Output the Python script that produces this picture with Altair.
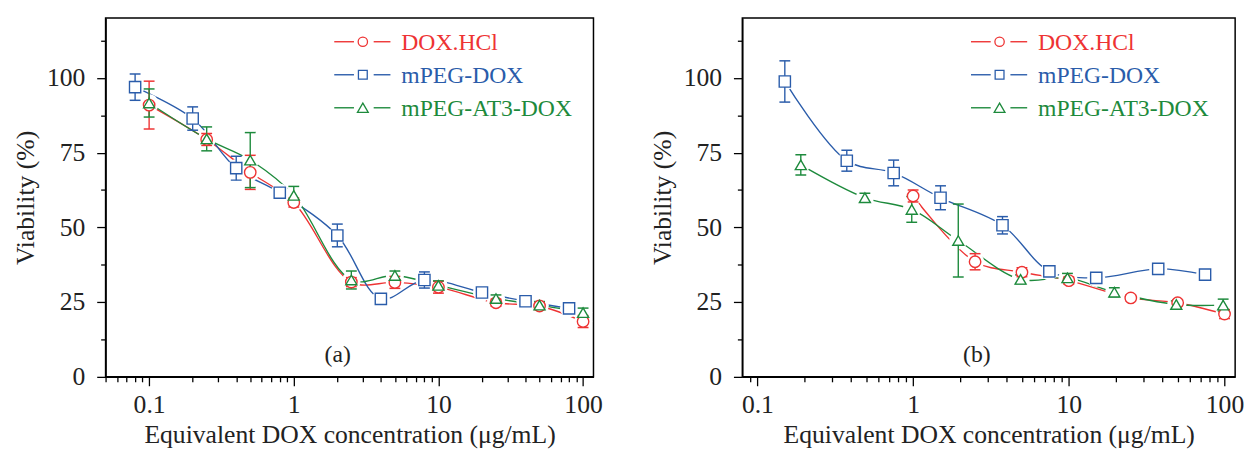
import altair as alt
import pandas as pd

SERIES = ["DOX.HCl", "mPEG-DOX", "mPEG-AT3-DOX"]
COLORS = ["#EE3333", "#2A5CAA", "#1D8A3C"]
SHAPES = ["circle", "square", "triangle-up"]
SIZES = [135, 125, 175]
LEG_SIZES = [90, 80, 120]

# Panel (a)
A_HCL_X = [0.1, 0.25, 0.5, 1, 2.5, 5, 10, 25, 50, 100]
A_HCL_Y = [90.9, 79.4, 68.4, 58.3, 31.7, 31.6, 30.0, 24.8, 23.7, 18.5]
A_HCL_E = [8.0, 2.0, 5.7, 1.5, 1.5, 2.0, 2.0, 1.2, 1.2, 2.0]
A_PEG_X = [0.08, 0.2, 0.4, 0.8, 2, 4, 8, 20, 40, 80]
A_PEG_Y = [96.9, 86.4, 69.8, 61.6, 47.3, 26.1, 32.4, 28.2, 25.3, 22.9]
A_PEG_E = [4.4, 3.9, 4.0, 1.5, 3.8, 1.5, 2.7, 1.5, 1.0, 1.0]
A_AT3_X = [0.1, 0.25, 0.5, 1, 2.5, 5, 10, 25, 50, 100]
A_AT3_Y = [91.6, 79.6, 72.5, 60.7, 32.4, 33.9, 30.6, 26.2, 24.0, 21.5]
A_AT3_E = [4.7, 4.0, 9.2, 3.0, 3.0, 1.5, 1.5, 1.2, 1.2, 1.5]

# Panel (b)
B_HCL_X = [1, 2.5, 5, 10, 25, 50, 100]
B_HCL_Y = [60.5, 38.5, 35.0, 32.2, 26.4, 24.8, 21.0]
B_HCL_E = [2.0, 2.7, 1.5, 1.2, 1.0, 1.0, 1.5]
B_PEG_X = [0.15, 0.375, 0.75, 1.5, 3.75, 7.5, 15, 37.5, 75]
B_PEG_Y = [98.8, 72.3, 68.2, 59.9, 50.7, 35.3, 33.1, 36.1, 34.2]
B_PEG_E = [6.9, 3.5, 4.3, 4.0, 2.9, 1.5, 1.2, 1.0, 1.0]
B_AT3_X = [0.19, 0.49, 0.98, 1.95, 4.9, 9.8, 19.6, 49, 98]
B_AT3_Y = [70.9, 59.9, 56.0, 45.6, 32.6, 33.1, 28.3, 24.2, 24.0]
B_AT3_E = [3.4, 1.5, 4.3, 12.2, 1.5, 1.5, 1.5, 1.2, 2.0]

A_XTICKS = [0.05, 0.06, 0.07, 0.08, 0.09, 0.1, 0.2, 0.3, 0.4, 0.5, 0.6, 0.7, 0.8, 0.9,
            1, 2, 3, 4, 5, 6, 7, 8, 9, 10, 20, 30, 40, 50, 60, 70, 80, 90, 100]
B_XTICKS = [0.09, 0.1, 0.2, 0.3, 0.4, 0.5, 0.6, 0.7, 0.8, 0.9,
            1, 2, 3, 4, 5, 6, 7, 8, 9, 10, 20, 30, 40, 50, 60, 70, 80, 90, 100]
X_MAJOR = [0.1, 1, 10, 100]
Y_TICKS = [0, 12.5, 25, 37.5, 50, 62.5, 75, 87.5, 100, 112.5]

FONT = "Liberation Serif"


def frame(series_data):
    rows = []
    for name, (xs, ys, es) in zip(SERIES, series_data):
        for x, y, e in zip(xs, ys, es):
            rows.append({"series": name, "x": x, "y": y, "lo": y - e, "hi": y + e})
    return pd.DataFrame(rows)


def panel(df, xdomain, xticks, width, label):
    major_test = "indexof([0.1, 1, 10, 100], datum.value) >= 0"
    xenc = alt.X(
        "x:Q",
        scale=alt.Scale(type="log", domain=xdomain, nice=False),
        axis=alt.Axis(
            values=xticks,
            labelExpr="indexof([0.1, 1, 10, 100], datum.value) >= 0 ? format(datum.value, '~g') : ''",
            tickSize={"condition": {"test": major_test, "value": 9}, "value": 5},
            labelOverlap=False,
            labelPadding=6,
            titlePadding=5,
            title="Equivalent DOX concentration (\u03bcg/mL)",
        ),
    )
    yenc = alt.Y(
        "y:Q",
        scale=alt.Scale(domain=[0, 120], nice=False),
        axis=alt.Axis(
            values=Y_TICKS,
            labelExpr="datum.value % 25 == 0 ? format(datum.value, 'd') : ''",
            tickSize={"condition": {"test": "datum.value % 25 == 0", "value": 9}, "value": 5},
            labelOverlap=False,
            labelPadding=12,
            titlePadding=8,
            title="Viability (%)",
        ),
    )
    color = alt.Color("series:N", scale=alt.Scale(domain=SERIES, range=COLORS), legend=None)
    stroke = alt.Stroke("series:N", scale=alt.Scale(domain=SERIES, range=COLORS), legend=None)
    shape = alt.Shape("series:N", scale=alt.Scale(domain=SERIES, range=SHAPES), legend=None)
    size = alt.Size("series:N", scale=alt.Scale(domain=SERIES, range=SIZES), legend=None)

    base = alt.Chart(df)
    line = base.mark_line(interpolate="catmull-rom", strokeWidth=1.4).encode(x=xenc, y=yenc, color=color)
    halo = base.mark_circle(color="white", size=340, opacity=1).encode(x="x:Q", y="y:Q")
    rule = base.mark_rule(strokeWidth=1.4).encode(x="x:Q", y="lo:Q", y2="hi:Q", color=color)
    cap_lo = base.mark_tick(orient="horizontal", size=11, thickness=1.5, opacity=1).encode(
        x="x:Q", y="lo:Q", color=color)
    cap_hi = base.mark_tick(orient="horizontal", size=11, thickness=1.5, opacity=1).encode(
        x="x:Q", y="hi:Q", color=color)
    pts = base.mark_point(fill="white", filled=False, fillOpacity=1, strokeWidth=1.4, opacity=1).encode(
        x="x:Q", y="y:Q", stroke=stroke, shape=shape, size=size)

    layers = [line, halo, rule, cap_lo, cap_hi, pts]

    for i, (name, col, shp, ls) in enumerate(zip(SERIES, COLORS, SHAPES, LEG_SIZES)):
        yy = 24 + 33.5 * i
        ld = pd.DataFrame({"series": [name]})
        lb = alt.Chart(ld)
        layers.append(lb.mark_rule(color=col, strokeWidth=1.4).encode(
            x=alt.value(232), x2=alt.value(252), y=alt.value(yy)))
        layers.append(lb.mark_rule(color=col, strokeWidth=1.4).encode(
            x=alt.value(272), x2=alt.value(289), y=alt.value(yy)))
        layers.append(lb.mark_point(shape=shp, color=col, filled=False, fill="white", fillOpacity=1,
                                    strokeWidth=1.3, size=ls, opacity=1).encode(
            x=alt.value(261), y=alt.value(yy)))
        layers.append(lb.mark_text(align="left", baseline="middle", font=FONT, fontSize=24, color=col).encode(
            x=alt.value(300), y=alt.value(yy + 1), text="series:N"))

    tl = alt.Chart(pd.DataFrame({"t": [label]})).mark_text(
        font=FONT, fontSize=24, color="#222222", baseline="middle").encode(
        x=alt.value(width / 2 - 12), y=alt.value(342), text="t:N")
    layers.append(tl)

    return alt.layer(*layers).properties(width=width, height=364)


dfa = frame([(A_HCL_X, A_HCL_Y, A_HCL_E), (A_PEG_X, A_PEG_Y, A_PEG_E), (A_AT3_X, A_AT3_Y, A_AT3_E)])
dfb = frame([(B_HCL_X, B_HCL_Y, B_HCL_E), (B_PEG_X, B_PEG_Y, B_PEG_E), (B_AT3_X, B_AT3_Y, B_AT3_E)])

left = panel(dfa, [0.05, 118], A_XTICKS, 495, "(a)")
right = panel(dfb, [0.08, 117], B_XTICKS, 500, "(b)")

chart = alt.hconcat(left, right, spacing=46).properties(
    padding={"left": 4, "top": 6, "right": 0, "bottom": 0}
).configure_view(stroke="black", strokeWidth=1.5).configure_axis(
    labelFont=FONT, titleFont=FONT, labelFontSize=26, titleFontSize=26, titleFontWeight="normal",
    labelColor="#222222", titleColor="#222222", domainColor="black", tickColor="black",
    domainWidth=1.5, tickWidth=1.3, grid=False,
)

chart.save("out.html", embed_options={"renderer": "svg", "actions": False})
